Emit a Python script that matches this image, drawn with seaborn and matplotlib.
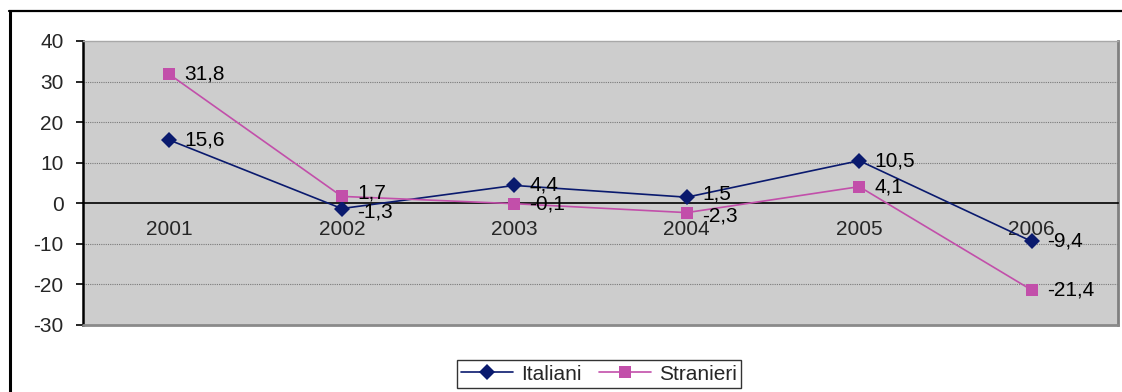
import matplotlib
matplotlib.use("Agg")
import matplotlib.pyplot as plt
from matplotlib.lines import Line2D
import numpy as np
import pandas as pd
import seaborn as sns

# Variazioni percentuali annue
anni = ["2001", "2002", "2003", "2004", "2005", "2006"]
italiani = [15.6, -1.3, 4.4, 1.5, 10.5, -9.4]
stranieri = [31.8, 1.7, -0.1, -2.3, 4.1, -21.4]
serie_nomi = ["Italiani", "Stranieri"]
y_ticks = [-30, -20, -10, 0, 10, 20, 30, 40]

colori = {"Italiani": "#0A1A6E", "Stranieri": "#C24FAA"}
marcatori = {"Italiani": "D", "Stranieri": "s"}

df = pd.concat([
    pd.DataFrame({"pos": np.arange(len(anni)), "anno": anni, "valore": italiani, "serie": "Italiani"}),
    pd.DataFrame({"pos": np.arange(len(anni)), "anno": anni, "valore": stranieri, "serie": "Stranieri"}),
], ignore_index=True)

sns.set_style("white")
plt.rcParams["font.family"] = ["Liberation Sans", "DejaVu Sans"]
FS = 15

W, H = 1122, 392
fig = plt.figure(figsize=(W / 100, H / 100), dpi=100)
ax = fig.add_axes([83 / W, 1 - 325 / H, (1118 - 83) / W, (325 - 41) / H])
ax.set_facecolor("#CDCDCD")

sns.lineplot(data=df, x="pos", y="valore", hue="serie", style="serie",
             hue_order=serie_nomi, style_order=serie_nomi,
             palette=colori, markers=marcatori, dashes=False,
             markersize=8, markeredgewidth=0, linewidth=1.2,
             ax=ax, legend=True, zorder=3)

# Etichette dei valori a destra dei punti; le coppie vicine si scostano un poco
for valori, altri in ((italiani, stranieri), (stranieri, italiani)):
    for i, (v, w) in enumerate(zip(valori, altri)):
        dy = 0
        if abs(v - w) < 4:
            dy = 2.5 if v > w else -2.5
        ax.annotate(f"{v:.1f}".replace(".", ","), xy=(i, v), xytext=(11, dy),
                    textcoords="offset points", ha="left", va="center",
                    fontsize=FS, color="black", zorder=4)

ax.set_xlim(-0.5, len(anni) - 0.5)
ax.set_ylim(-30, 40)
ax.set_xlabel("")
ax.set_ylabel("")

# Asse delle categorie sulla linea dello zero
ax.spines["bottom"].set_position(("data", 0))
ax.spines["bottom"].set_color("black")
ax.spines["bottom"].set_linewidth(1.2)
ax.set_xticks(np.arange(-0.5, len(anni), 1.0))
ax.set_xticklabels([])
ax.set_xticks(np.arange(len(anni)), minor=True)
ax.set_xticklabels(anni, minor=True)
ax.tick_params(axis="x", which="major", direction="out", length=5, width=1.2, color="black")
ax.tick_params(axis="x", which="minor", length=0, pad=12, labelsize=FS)

ax.set_yticks(y_ticks)
ax.set_yticklabels([str(t) for t in y_ticks])
ax.tick_params(axis="y", direction="out", length=5, width=1.2, color="black",
               pad=9, labelsize=FS, left=True)

ax.spines["left"].set_color("black")
ax.spines["left"].set_linewidth(1.8)
ax.spines["top"].set_color("#A8A8A8")
ax.spines["top"].set_linewidth(1.0)
ax.spines["right"].set_color("#808080")
ax.spines["right"].set_linewidth(2.0)
ax.plot([0, 1], [0, 0], transform=ax.transAxes, color="#8A8A8A", lw=2.0,
        clip_on=False, zorder=5)

# Griglia orizzontale punteggiata
for t in y_ticks:
    if t not in (0, 40, -30):
        ax.axhline(t, color="#7A7A7A", lw=0.8, ls=(0, (1, 1)), zorder=1)

# Legenda in basso
handles, labels = ax.get_legend_handles_labels()
ax.get_legend().remove()
leg = fig.legend(handles, labels, loc="center", bbox_to_anchor=(599 / W, 1 - 374 / H),
                 ncol=2, frameon=True, fancybox=False, edgecolor="black",
                 fontsize=FS, handlelength=2.5, handletextpad=0.4,
                 columnspacing=0.8, borderpad=0.2, borderaxespad=0)
leg.get_frame().set_linewidth(1.0)

# Cornice dell'area del grafico
fig.add_artist(Line2D([9.5 / W, 9.5 / W], [0, 1 - 11 / H], transform=fig.transFigure,
                      color="black", lw=2.2))
fig.add_artist(Line2D([9 / W, 1], [1 - 11 / H, 1 - 11 / H], transform=fig.transFigure,
                      color="black", lw=1.6))

fig.savefig("out.png", dpi=100, facecolor="white")
